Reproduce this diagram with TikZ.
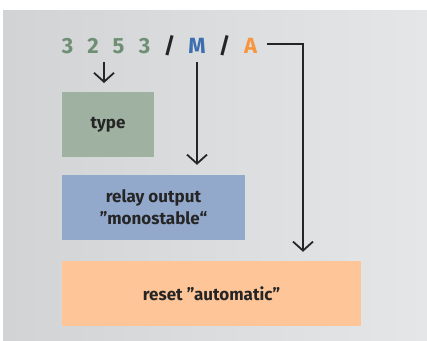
\documentclass[tikz,border=0pt]{standalone}
\usepackage{fontspec}
\setmainfont{Fira Sans}
\usetikzlibrary{arrows.meta,calc}
\definecolor{bgL}{HTML}{D2D3D5}
\definecolor{bgR}{HTML}{E5E6E8}
\definecolor{cgreen}{HTML}{6E8F74}
\definecolor{cblue}{HTML}{3C6EB0}
\definecolor{corange}{HTML}{F7963E}
\definecolor{boxgreen}{HTML}{9FB2A1}
\definecolor{boxblue}{HTML}{93A9CC}
\definecolor{boxorange}{HTML}{FDC598}
\definecolor{ink}{HTML}{252525}
\begin{document}
\begin{tikzpicture}[x=1pt,y=-1pt,
  code/.style={font=\fontsize{22}{22}\selectfont\bfseries, inner sep=0pt, anchor=base},
  box/.style={inner sep=0pt, font=\fontsize{17}{22}\selectfont\bfseries, text=ink, align=center, minimum height=65pt},
  arr/.style={draw=ink, line width=1.8pt, -{Straight Barb[length=9pt,width=20pt]}},
]
\useasboundingbox (0,0) rectangle (427,340);
\shade[left color=bgL, right color=bgR] (3,10) rectangle (427,340);

% code line
\node[code, text=cgreen] (d1) at (67.5,53) {3};
\node[code, text=cgreen] (d2) at (93,53) {2};
\node[code, text=cgreen] (d3) at (118.5,53) {5};
\node[code, text=cgreen] (d4) at (144.5,53) {3};
\node[code, text=ink] (s1) at (169.5,53) {/};
\node[code, text=cblue] (m) at (197,53) {M};
\node[code, text=ink] (s2) at (224.5,53) {/};
\node[code, text=corange] (a) at (250.5,53) {A};

% boxes
\node[box, fill=boxgreen, minimum width=92pt] (type) at (108,124.5) {type};
\node[box, fill=boxblue, minimum width=183pt] (relay) at (153.5,207.5) {relay output\\”monostable“};
\node[box, fill=boxorange, minimum width=299pt] (reset) at (211.5,293.5) {reset ”automatic”};

% connectors
\coordinate (nstart) at (104,62);
\coordinate (nend) at (104,83);
\draw[arr] (nstart) -- (nend);
\draw[arr, shorten <=9pt, shorten >=10pt] (m.south) -- (m.south |- relay.north);
\coordinate (corner) at (303,44);
\draw[arr, shorten <=10pt, shorten >=9pt] (a.east |- corner) -- (corner) -- (corner |- reset.north);
\end{tikzpicture}
\end{document}
